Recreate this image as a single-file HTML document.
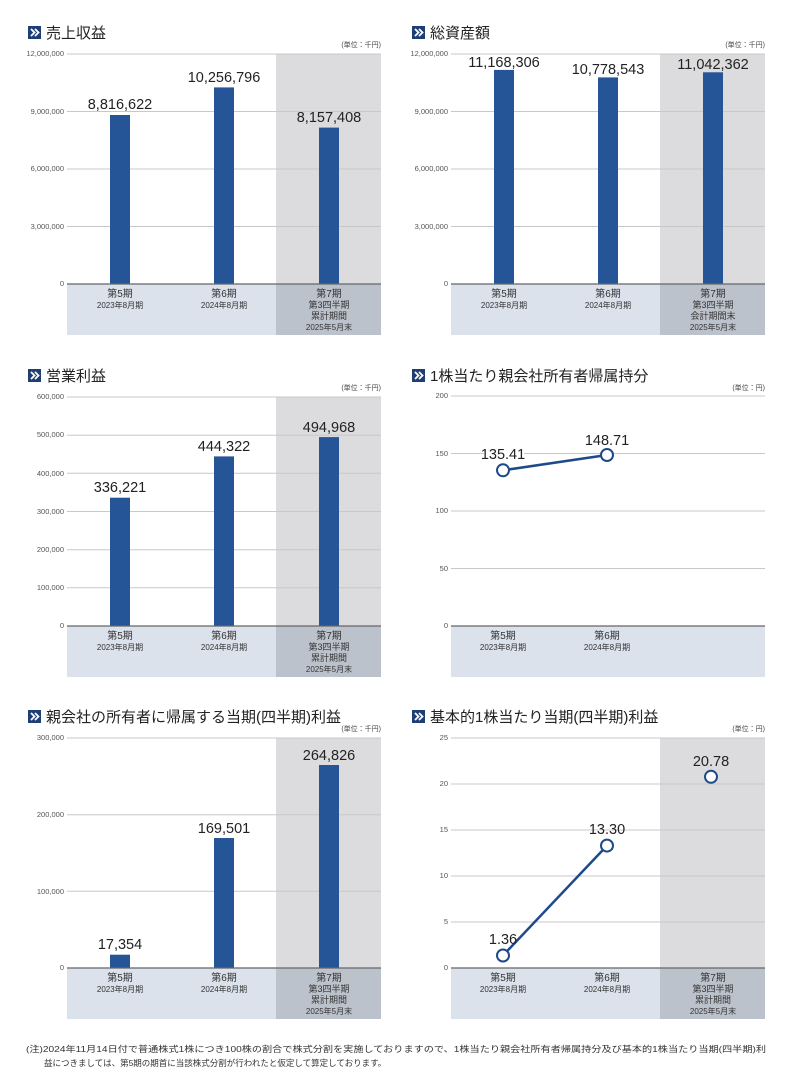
<!DOCTYPE html>
<html><head><meta charset="utf-8"><style>
body{margin:0;background:#fff;}
svg{display:block;font-family:"Liberation Sans","Noto Sans CJK JP",sans-serif;}
.tk{font-size:7.5px;fill:#555;text-anchor:end}
.v{font-size:14.5px;fill:#222;text-anchor:middle}
.c1{font-size:10px;fill:#333;text-anchor:middle}
.c2{font-size:8px;fill:#333;text-anchor:middle}
.t{font-size:15px;fill:#222}
.u{font-size:7px;fill:#444;text-anchor:end}
.g{stroke:#c8c8c8;stroke-width:1}
.ax{stroke:#666;stroke-width:1.2}
.bar{fill:#255597}
.nt{font-size:8.5px;fill:#333}
</style></head><body>
<svg width="800" height="1083" viewBox="0 0 800 1083">
<defs>
<g id="ic"><rect x="0" y="0" width="13" height="13" fill="#1e3f73"/><path d="M3 3 L6.5 6.5 L3 10 M7 3 L10.5 6.5 L7 10" stroke="#fff" stroke-width="1.8" fill="none"/></g>
</defs>

<!-- Titles -->
<use href="#ic" x="28" y="26"/><text class="t" x="46" y="38">売上収益</text>
<use href="#ic" x="412" y="26"/><text class="t" x="430" y="38">総資産額</text>
<use href="#ic" x="28" y="369"/><text class="t" x="46" y="381">営業利益</text>
<use href="#ic" x="412" y="369"/><text class="t" x="430" y="381">1株当たり親会社所有者帰属持分</text>
<use href="#ic" x="28" y="710"/><text class="t" x="46" y="722">親会社の所有者に帰属する当期(四半期)利益</text>
<use href="#ic" x="412" y="710"/><text class="t" x="430" y="722">基本的1株当たり当期(四半期)利益</text>

<!-- Chart 1 -->
<g transform="translate(67,54)">
<text class="u" x="314" y="-7">(単位：千円)</text>
<rect x="209" y="0" width="105" height="230" fill="#dcdcde"/>
<rect x="0" y="230" width="314" height="51" fill="#dbe2ec"/><rect x="209" y="230" width="105" height="51" fill="#bcc2cc"/>
<line class="g" x1="0" x2="314" y1="0" y2="0"/><line class="g" x1="0" x2="314" y1="57.5" y2="57.5"/><line class="g" x1="0" x2="314" y1="115" y2="115"/><line class="g" x1="0" x2="314" y1="172.5" y2="172.5"/>
<text class="tk" x="-3" y="2">12,000,000</text><text class="tk" x="-3" y="60">9,000,000</text><text class="tk" x="-3" y="117">6,000,000</text><text class="tk" x="-3" y="175">3,000,000</text><text class="tk" x="-3" y="232">0</text>
<rect class="bar" x="43" y="61" width="20" height="169"/><rect class="bar" x="147" y="33.4" width="20" height="196.6"/><rect class="bar" x="252" y="73.6" width="20" height="156.4"/>
<text class="v" x="53" y="55">8,816,622</text><text class="v" x="157" y="28">10,256,796</text><text class="v" x="262" y="68">8,157,408</text>
<line class="ax" x1="0" x2="314" y1="230" y2="230"/>
<text class="c1" x="53" y="243">第5期</text><text class="c2" x="53" y="254">2023年8月期</text>
<text class="c1" x="157" y="243">第6期</text><text class="c2" x="157" y="254">2024年8月期</text>
<text class="c1" x="262" y="243">第7期</text><text class="c1" x="262" y="254" style="font-size:9px">第3四半期</text><text class="c1" x="262" y="265" style="font-size:9px">累計期間</text><text class="c2" x="262" y="276">2025年5月末</text>
</g>

<!-- Chart 2 -->
<g transform="translate(451,54)">
<text class="u" x="314" y="-7">(単位：千円)</text>
<rect x="209" y="0" width="105" height="230" fill="#dcdcde"/>
<rect x="0" y="230" width="314" height="51" fill="#dbe2ec"/><rect x="209" y="230" width="105" height="51" fill="#bcc2cc"/>
<line class="g" x1="0" x2="314" y1="0" y2="0"/><line class="g" x1="0" x2="314" y1="57.5" y2="57.5"/><line class="g" x1="0" x2="314" y1="115" y2="115"/><line class="g" x1="0" x2="314" y1="172.5" y2="172.5"/>
<text class="tk" x="-3" y="2">12,000,000</text><text class="tk" x="-3" y="60">9,000,000</text><text class="tk" x="-3" y="117">6,000,000</text><text class="tk" x="-3" y="175">3,000,000</text><text class="tk" x="-3" y="232">0</text>
<rect class="bar" x="43" y="15.9" width="20" height="214.1"/><rect class="bar" x="147" y="23.4" width="20" height="206.6"/><rect class="bar" x="252" y="18.3" width="20" height="211.7"/>
<text class="v" x="53" y="13">11,168,306</text><text class="v" x="157" y="20">10,778,543</text><text class="v" x="262" y="15">11,042,362</text>
<line class="ax" x1="0" x2="314" y1="230" y2="230"/>
<text class="c1" x="53" y="243">第5期</text><text class="c2" x="53" y="254">2023年8月期</text>
<text class="c1" x="157" y="243">第6期</text><text class="c2" x="157" y="254">2024年8月期</text>
<text class="c1" x="262" y="243">第7期</text><text class="c1" x="262" y="254" style="font-size:9px">第3四半期</text><text class="c1" x="262" y="265" style="font-size:9px">会計期間末</text><text class="c2" x="262" y="276">2025年5月末</text>
</g>

<!-- Chart 3 -->
<g transform="translate(67,397)">
<text class="u" x="314" y="-7">(単位：千円)</text>
<rect x="209" y="0" width="105" height="229" fill="#dcdcde"/>
<rect x="0" y="229" width="314" height="51" fill="#dbe2ec"/><rect x="209" y="229" width="105" height="51" fill="#bcc2cc"/>
<line class="g" x1="0" x2="314" y1="0" y2="0"/><line class="g" x1="0" x2="314" y1="38.2" y2="38.2"/><line class="g" x1="0" x2="314" y1="76.3" y2="76.3"/><line class="g" x1="0" x2="314" y1="114.5" y2="114.5"/><line class="g" x1="0" x2="314" y1="152.7" y2="152.7"/><line class="g" x1="0" x2="314" y1="190.8" y2="190.8"/>
<text class="tk" x="-3" y="2">600,000</text><text class="tk" x="-3" y="40">500,000</text><text class="tk" x="-3" y="79">400,000</text><text class="tk" x="-3" y="117">300,000</text><text class="tk" x="-3" y="155">200,000</text><text class="tk" x="-3" y="193">100,000</text><text class="tk" x="-3" y="231">0</text>
<rect class="bar" x="43" y="100.7" width="20" height="128.3"/><rect class="bar" x="147" y="59.4" width="20" height="169.6"/><rect class="bar" x="252" y="40.1" width="20" height="188.9"/>
<text class="v" x="53" y="95">336,221</text><text class="v" x="157" y="54">444,322</text><text class="v" x="262" y="35">494,968</text>
<line class="ax" x1="0" x2="314" y1="229" y2="229"/>
<text class="c1" x="53" y="242">第5期</text><text class="c2" x="53" y="253">2023年8月期</text>
<text class="c1" x="157" y="242">第6期</text><text class="c2" x="157" y="253">2024年8月期</text>
<text class="c1" x="262" y="242">第7期</text><text class="c1" x="262" y="253" style="font-size:9px">第3四半期</text><text class="c1" x="262" y="264" style="font-size:9px">累計期間</text><text class="c2" x="262" y="275">2025年5月末</text>
</g>

<!-- Chart 4 -->
<g transform="translate(451,396)">
<text class="u" x="314" y="-6">(単位：円)</text>
<rect x="0" y="230" width="314" height="51" fill="#dbe2ec"/>
<line class="g" x1="0" x2="314" y1="0" y2="0"/><line class="g" x1="0" x2="314" y1="57.5" y2="57.5"/><line class="g" x1="0" x2="314" y1="115" y2="115"/><line class="g" x1="0" x2="314" y1="172.5" y2="172.5"/>
<text class="tk" x="-3" y="2">200</text><text class="tk" x="-3" y="60">150</text><text class="tk" x="-3" y="117">100</text><text class="tk" x="-3" y="175">50</text><text class="tk" x="-3" y="232">0</text>
<line x1="52" y1="74.3" x2="156" y2="59" stroke="#1e4a8a" stroke-width="2.5"/>
<rect x="33" y="51" width="40" height="14" fill="#fff"/>
<text class="v" x="52" y="63">135.41</text><text class="v" x="156" y="49">148.71</text>
<circle cx="52" cy="74.3" r="6" fill="#fff" stroke="#1e4a8a" stroke-width="2"/><circle cx="156" cy="59" r="6" fill="#fff" stroke="#1e4a8a" stroke-width="2"/>
<line class="ax" x1="0" x2="314" y1="230" y2="230"/>
<text class="c1" x="52" y="243">第5期</text><text class="c2" x="52" y="254">2023年8月期</text>
<text class="c1" x="156" y="243">第6期</text><text class="c2" x="156" y="254">2024年8月期</text>
</g>

<!-- Chart 5 -->
<g transform="translate(67,738)">
<text class="u" x="314" y="-7">(単位：千円)</text>
<rect x="209" y="0" width="105" height="230" fill="#dcdcde"/>
<rect x="0" y="230" width="314" height="51" fill="#dbe2ec"/><rect x="209" y="230" width="105" height="51" fill="#bcc2cc"/>
<line class="g" x1="0" x2="314" y1="0" y2="0"/><line class="g" x1="0" x2="314" y1="76.7" y2="76.7"/><line class="g" x1="0" x2="314" y1="153.3" y2="153.3"/>
<text class="tk" x="-3" y="2">300,000</text><text class="tk" x="-3" y="79">200,000</text><text class="tk" x="-3" y="156">100,000</text><text class="tk" x="-3" y="232">0</text>
<rect class="bar" x="43" y="216.7" width="20" height="13.3"/><rect class="bar" x="147" y="100" width="20" height="130"/><rect class="bar" x="252" y="27" width="20" height="203"/>
<text class="v" x="53" y="211">17,354</text><text class="v" x="157" y="95">169,501</text><text class="v" x="262" y="22">264,826</text>
<line class="ax" x1="0" x2="314" y1="230" y2="230"/>
<text class="c1" x="53" y="243">第5期</text><text class="c2" x="53" y="254">2023年8月期</text>
<text class="c1" x="157" y="243">第6期</text><text class="c2" x="157" y="254">2024年8月期</text>
<text class="c1" x="262" y="243">第7期</text><text class="c1" x="262" y="254" style="font-size:9px">第3四半期</text><text class="c1" x="262" y="265" style="font-size:9px">累計期間</text><text class="c2" x="262" y="276">2025年5月末</text>
</g>

<!-- Chart 6 -->
<g transform="translate(451,738)">
<text class="u" x="314" y="-7">(単位：円)</text>
<rect x="209" y="0" width="105" height="230" fill="#dcdcde"/>
<rect x="0" y="230" width="314" height="51" fill="#dbe2ec"/><rect x="209" y="230" width="105" height="51" fill="#bcc2cc"/>
<line class="g" x1="0" x2="314" y1="0" y2="0"/><line class="g" x1="0" x2="314" y1="46" y2="46"/><line class="g" x1="0" x2="314" y1="92" y2="92"/><line class="g" x1="0" x2="314" y1="138" y2="138"/><line class="g" x1="0" x2="314" y1="184" y2="184"/>
<text class="tk" x="-3" y="2">25</text><text class="tk" x="-3" y="48">20</text><text class="tk" x="-3" y="94">15</text><text class="tk" x="-3" y="140">10</text><text class="tk" x="-3" y="186">5</text><text class="tk" x="-3" y="232">0</text>
<line x1="52" y1="217.5" x2="156" y2="107.6" stroke="#1e4a8a" stroke-width="2.5"/>
<text class="v" x="52" y="206">1.36</text><text class="v" x="156" y="96">13.30</text><text class="v" x="260" y="28">20.78</text>
<circle cx="52" cy="217.5" r="6" fill="#fff" stroke="#1e4a8a" stroke-width="2"/><circle cx="156" cy="107.6" r="6" fill="#fff" stroke="#1e4a8a" stroke-width="2"/><circle cx="260" cy="38.8" r="6" fill="#fff" stroke="#1e4a8a" stroke-width="2"/>
<line class="ax" x1="0" x2="314" y1="230" y2="230"/>
<text class="c1" x="52" y="243">第5期</text><text class="c2" x="52" y="254">2023年8月期</text>
<text class="c1" x="156" y="243">第6期</text><text class="c2" x="156" y="254">2024年8月期</text>
<text class="c1" x="262" y="243">第7期</text><text class="c1" x="262" y="254" style="font-size:9px">第3四半期</text><text class="c1" x="262" y="265" style="font-size:9px">累計期間</text><text class="c2" x="262" y="276">2025年5月末</text>
</g>

<text class="nt" x="26" y="1052" textLength="740" lengthAdjust="spacingAndGlyphs">(注)2024年11月14日付で普通株式1株につき100株の割合で株式分割を実施しておりますので、1株当たり親会社所有者帰属持分及び基本的1株当たり当期(四半期)利</text>
<text class="nt" x="44" y="1066">益につきましては、第5期の期首に当該株式分割が行われたと仮定して算定しております。</text>
</svg>
</body></html>
